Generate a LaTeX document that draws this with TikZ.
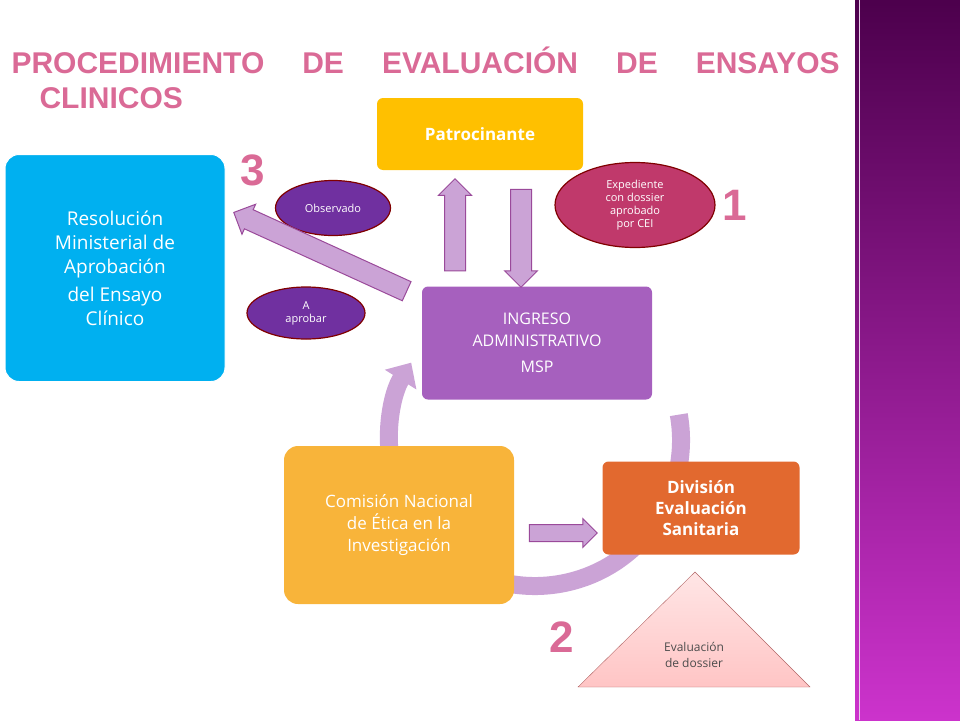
\documentclass[tikz,border=0pt]{standalone}
\usepackage{fontspec}
\setmainfont{Open Sans}
\newfontfamily\titlefont{Liberation Sans}
\usetikzlibrary{positioning,arrows.meta,shapes.arrows,shapes.geometric}
\definecolor{pinkline}{HTML}{DA6A96}
\definecolor{lilac}{HTML}{CBA3D6}
\definecolor{lilacedge}{HTML}{9A4A9A}
\definecolor{patroyellow}{HTML}{FFC000}
\definecolor{resolblue}{HTML}{00B0F0}
\definecolor{ingresopurple}{HTML}{A660BE}
\definecolor{divorange}{HTML}{E2692F}
\definecolor{comiorange}{HTML}{F8B43A}
\definecolor{ovalpurple}{HTML}{7030A0}
\definecolor{ovalred}{HTML}{C0396B}
\tikzset{
  box/.style={rounded corners=6pt,text=white,align=center,inner sep=6pt},
  oval/.style={ellipse,draw=red!50!black,line width=1.2pt,text=white,align=center,inner sep=1pt,font=\fontsize{11}{13}\selectfont},
  blockarrow/.style={single arrow,draw=lilacedge,fill=lilac,line width=1pt,
    single arrow head extend=6pt,inner sep=0pt},
}
\newcommand{\shaft}[1]{\rule{0pt}{#1}}
\begin{document}
\begin{tikzpicture}[x=1pt,y=-1pt]
\useasboundingbox (0,0) rectangle (960,720);
% stripe on the right
\shade[top color=violet!60!black,bottom color=magenta!50!violet!80] (855,0) rectangle (960,720);
\draw[white!80!violet,line width=1pt] (859,0) -- (859,720);
% title
\node[anchor=west,text=pinkline,font=\titlefont\bfseries\fontsize{30}{30}\selectfont] (title1) at (8,60)
  {PROCEDIMIENTO\hspace{38pt}DE\hspace{38pt}EVALUACIÓN\hspace{38pt}DE\hspace{38pt}ENSAYOS};
\node[anchor=west,text=pinkline,font=\titlefont\bfseries\fontsize{30}{30}\selectfont] (title2) at (36,98) {CLINICOS};
% ring
\draw[lilac,line width=18pt,-{Triangle[width=36pt,length=20pt]}] (535,440) ++(-10:146) arc[start angle=-10,end angle=212,radius=146];
% boxes
\node[box,fill=patroyellow,minimum width=206pt,minimum height=72pt,font=\bfseries\fontsize{17}{20}\selectfont] (patro) at (480,134) {Patrocinante};
\node[box,fill=resolblue,rounded corners=14pt,minimum width=220pt,minimum height=227pt,font=\fontsize{19}{24}\selectfont,draw=white,line width=1pt] (resol) at (115,268)
  {Resolución\\Ministerial de\\Aprobación\\[4pt]del Ensayo\\Clínico};
\node[box,fill=ingresopurple,minimum width=230pt,minimum height=113pt,font=\fontsize{16}{22}\selectfont] (ingreso) at (537,343)
  {INGRESO\\ADMINISTRATIVO\\[4pt]MSP};
\node[box,fill=divorange,minimum width=197pt,minimum height=93pt,font=\bfseries\fontsize{17}{21}\selectfont] (division) at (701,508)
  {División\\Evaluación\\Sanitaria};
\node[box,fill=comiorange,rounded corners=14pt,minimum width=230pt,minimum height=158pt,font=\fontsize{17}{22}\selectfont] (comision) at (399,525)
  {Comisión Nacional\\de Ética en la\\Investigación};
% ovals
\node[oval,fill=ovalpurple,minimum width=115pt,minimum height=55pt] (observado) at (333,208) {Observado};
\node[oval,fill=ovalred,minimum width=160pt,minimum height=85pt] (expediente) at (635,205) {Expediente\\con dossier\\aprobado\\por CEI};
\node[oval,fill=ovalpurple,minimum width=118pt,minimum height=52pt] (aprobar) at (306,313) {A\\aprobar};
% block arrows
\node[blockarrow,minimum height=92pt,rotate=90] (up) at (455,230) {\shaft{20pt}};
\node[blockarrow,minimum height=98pt,rotate=-90] (down) at (521,233) {\shaft{20pt}};
\node[blockarrow,minimum height=190pt,rotate=155.5] (diag) at (325,254) {\shaft{20pt}};
\node[blockarrow,minimum height=68pt] (right) at (559,533) {\shaft{16pt}};
% triangle
\shade[top color=pink!40!white,bottom color=pink!90!red!70,draw=red!50!black!60] (695,572) -- (810,687) -- (578,687) -- cycle;
\node[text=black!70,align=center,font=\fontsize{12}{16}\selectfont] (dossier) at (694,655) {Evaluación\\de dossier};
% digits
\node[text=pinkline,font=\titlefont\bfseries\fontsize{44}{44}\selectfont] (d3) at (253,170) {3};
\node[text=pinkline,font=\titlefont\bfseries\fontsize{44}{44}\selectfont] (d1) at (735,205) {1};
\node[text=pinkline,font=\titlefont\bfseries\fontsize{44}{44}\selectfont] (d2) at (562,637) {2};
\end{tikzpicture}
\end{document}
